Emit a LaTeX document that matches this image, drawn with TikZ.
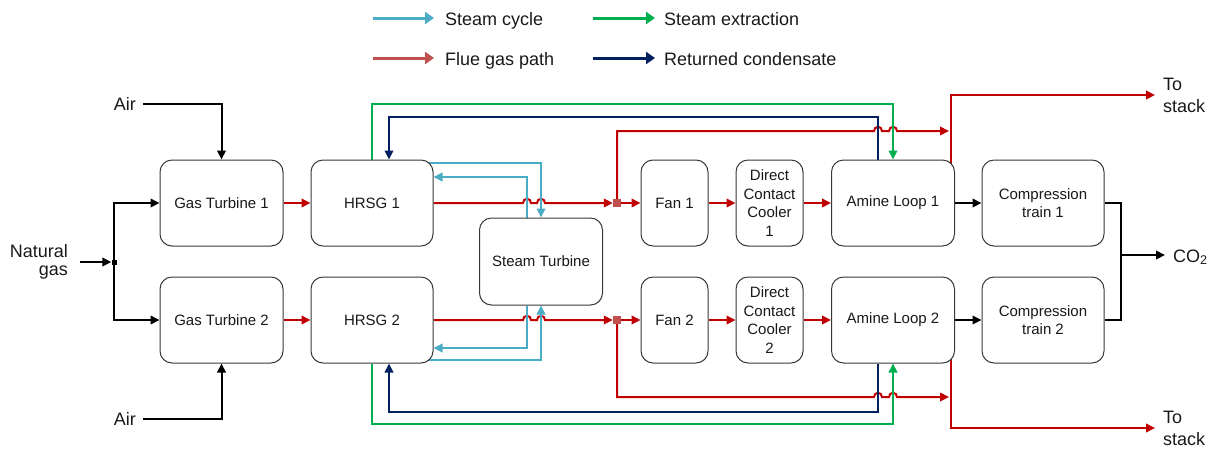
\documentclass[tikz,border=0pt]{standalone}
\usepackage{fontspec}
\setmainfont{Liberation Sans}
\usetikzlibrary{arrows.meta,calc}
\definecolor{flue}{HTML}{C00000}
\definecolor{fluelight}{HTML}{C0504D}
\definecolor{steamc}{HTML}{4BACC6}
\definecolor{extr}{HTML}{00B050}
\definecolor{cond}{HTML}{002060}
\pgfdeclarelayer{bg}
\pgfsetlayers{bg,main}
\begin{document}
\begin{tikzpicture}[x=1pt,y=-1pt,
  box/.style={draw=black!78, fill=white, line width=1pt, rounded corners=12pt, align=center, inner sep=0pt, font=\fontsize{15}{18.5}\selectfont, text=black!90},
  rowbox/.style={box, minimum height=86pt},
  lbl/.style={inner sep=0pt, font=\fontsize{18}{18}\selectfont, text=black!90},
  flowtip/.style={-{Triangle[length=9pt,width=8.5pt]}},
  fl/.style={draw=flue, line width=2pt, flowtip},
  sc/.style={draw=steamc, line width=2pt, flowtip},
  ex/.style={draw=extr, line width=2pt, flowtip},
  cd/.style={draw=cond, line width=2pt, flowtip},
  bk/.style={draw=black, line width=2pt, flowtip},
  lgd/.style={line width=3pt, -{Triangle[length=9pt,width=12pt]}},
]
\useasboundingbox (0,0) rectangle (1210,448);

% ---------- boxes ----------
\node[rowbox, minimum width=123pt] (gt1) at (221.5,203) {Gas Turbine 1};
\node[rowbox, minimum width=123pt] (gt2) at (221.5,320) {Gas Turbine 2};
\node[rowbox, minimum width=122pt] (hrsg1) at (372,203) {HRSG 1};
\node[rowbox, minimum width=122pt] (hrsg2) at (372,320) {HRSG 2};
\node[box, minimum width=123pt, minimum height=87pt] (st) at (541,261.5) {Steam Turbine};
\node[rowbox, minimum width=67pt] (fan1) at (674.5,203) {Fan 1};
\node[rowbox, minimum width=67pt] (fan2) at (674.5,320) {Fan 2};
\node[rowbox, minimum width=67pt] (dcc1) at (769.5,203) {Direct\\Contact\\Cooler\\1};
\node[rowbox, minimum width=67pt] (dcc2) at (769.5,320) {Direct\\Contact\\Cooler\\2};
\node[rowbox, minimum width=123pt] (am1) at (893,203) {Amine Loop 1};
\node[rowbox, minimum width=123pt] (am2) at (893,320) {Amine Loop 2};
\node[rowbox, minimum width=122pt] (comp1) at (1043,203) {Compression\\train 1};
\node[rowbox, minimum width=122pt] (comp2) at (1043,320) {Compression\\train 2};

\node[fill=fluelight, inner sep=0pt, minimum size=8pt] (sq1) at (617,203) {};
\node[fill=fluelight, inner sep=0pt, minimum size=8pt] (sq2) at (617,320) {};
\node[fill=black, inner sep=0pt, minimum size=5pt] (jn) at (114,262) {};

% ---------- labels ----------
\node[lbl, anchor=east] (air1) at (136,104) {Air};
\node[lbl, anchor=east] (air2) at (136,419) {Air};
\node[lbl, anchor=east, align=right] (ng) at (68,262) {Natural\\gas};
\node[lbl, anchor=west, align=left, font=\fontsize{18}{22}\selectfont] (stk1) at (1163,95) {To\\stack};
\node[lbl, anchor=west, align=left, font=\fontsize{18}{22}\selectfont] (stk2) at (1163,428.5) {To\\stack};
\node[lbl, anchor=base west] (co2) at (1173,262) {CO\textsubscript{2}};

\coordinate (stk1end) at (1155,95);
\coordinate (stk2end) at (1155,428);
\coordinate (mrg) at (1121,255);
\coordinate (co2end) at (1165,255);

% ---------- legend ----------
\coordinate (l1a) at (373,18); \coordinate (l1b) at (434,18);
\coordinate (l2a) at (593,18); \coordinate (l2b) at (655,18);
\coordinate (l3a) at (373,58); \coordinate (l3b) at (434,58);
\coordinate (l4a) at (593,58); \coordinate (l4b) at (655,58);
\draw[lgd, steamc] (l1a) -- (l1b);
\draw[lgd, extr] (l2a) -- (l2b);
\draw[lgd, fluelight] (l3a) -- (l3b);
\draw[lgd, cond] (l4a) -- (l4b);
\node[lbl, anchor=base west] (t1) at (445,25.5) {Steam cycle};
\node[lbl, anchor=base west] (t2) at (664,25.5) {Steam extraction};
\node[lbl, anchor=base west] (t3) at (445,65) {Flue gas path};
\node[lbl, anchor=base west] (t4) at (664,65) {Returned condensate};

% ---------- connectors ----------
\begin{pgfonlayer}{bg}
% black inputs
\draw[bk, shorten <=7pt] (air1.east) -| (gt1.north);
\draw[bk, shorten <=7pt] (air2.east) -| (gt2.south);
\draw[bk, shorten <=12pt] (ng.east) -- (jn.west);
\draw[bk] (jn.center) |- (gt1.west);
\draw[bk] (jn.center) |- (gt2.west);

% flue gas
\draw[fl] (gt1.east) -- (hrsg1.west);
\draw[fl] (gt2.east) -- (hrsg2.west);
\draw[fl] (hrsg1.east) -- (523,203) .. controls (523,197.5) and (531,197.5) .. (531,203)
  -- (537,203) .. controls (537,197.5) and (545,197.5) .. (545,203) -- (sq1.west);
\draw[fl] (hrsg2.east) -- (523,320) .. controls (523,314.5) and (531,314.5) .. (531,320)
  -- (537,320) .. controls (537,314.5) and (545,314.5) .. (545,320) -- (sq2.west);
\draw[fl] (sq1.east) -- (fan1.west);
\draw[fl] (sq2.east) -- (fan2.west);
\draw[fl] (fan1.east) -- (dcc1.west);
\draw[fl] (fan2.east) -- (dcc2.west);
\draw[fl] (dcc1.east) -- (am1.west);
\draw[fl] (dcc2.east) -- (am2.west);
% bypass
\draw[fl] (sq1.north) |- (874,131) .. controls (874,125.5) and (882,125.5) .. (882,131)
  -- (889,131) .. controls (889,125.5) and (897,125.5) .. (897,131) -- (949,131);
\draw[fl] (sq2.south) |- (874,397) .. controls (874,391.5) and (882,391.5) .. (882,397)
  -- (889,397) .. controls (889,391.5) and (897,391.5) .. (897,397) -- (949,397);
% to stack
\draw[fl] ($(am1.north east)+(-4.5,12)$) |- (stk1end);
\draw[fl] ($(am2.south east)+(-4.5,-12)$) |- (stk2end);

% CO2
\draw[bk] (am1.east) -- (comp1.west);
\draw[bk] (am2.east) -- (comp2.west);
\draw[line width=2pt] (comp1.east) -| (mrg) |- (comp2.east);
\draw[bk] (mrg) -- (co2end);

% steam cycle
\draw[sc] ($(hrsg1.north east)+(-8,3)$) -| (st.north);
\draw[sc] ($(st.north)+(-14,0)$) |- ($(hrsg1.east)+(0,-26)$);
\draw[sc] ($(st.south)+(-14,0)$) |- ($(hrsg2.east)+(0,28)$);
\draw[sc] ($(hrsg2.south east)+(-8,-4)$) -| (st.south);

% steam extraction
\draw[ex] (hrsg1.north) -- ++(0,-56) -| (am1.north);
\draw[ex] (hrsg2.south) -- ++(0,60) -| (am2.south);

% returned condensate
\draw[cd] ($(am1.north)+(-15,0)$) -- ++(0,-43) -| ($(hrsg1.north)+(17,0)$);
\draw[cd] ($(am2.south)+(-15,0)$) -- ++(0,48) -| ($(hrsg2.south)+(17,0)$);
\end{pgfonlayer}
\end{tikzpicture}
\end{document}
